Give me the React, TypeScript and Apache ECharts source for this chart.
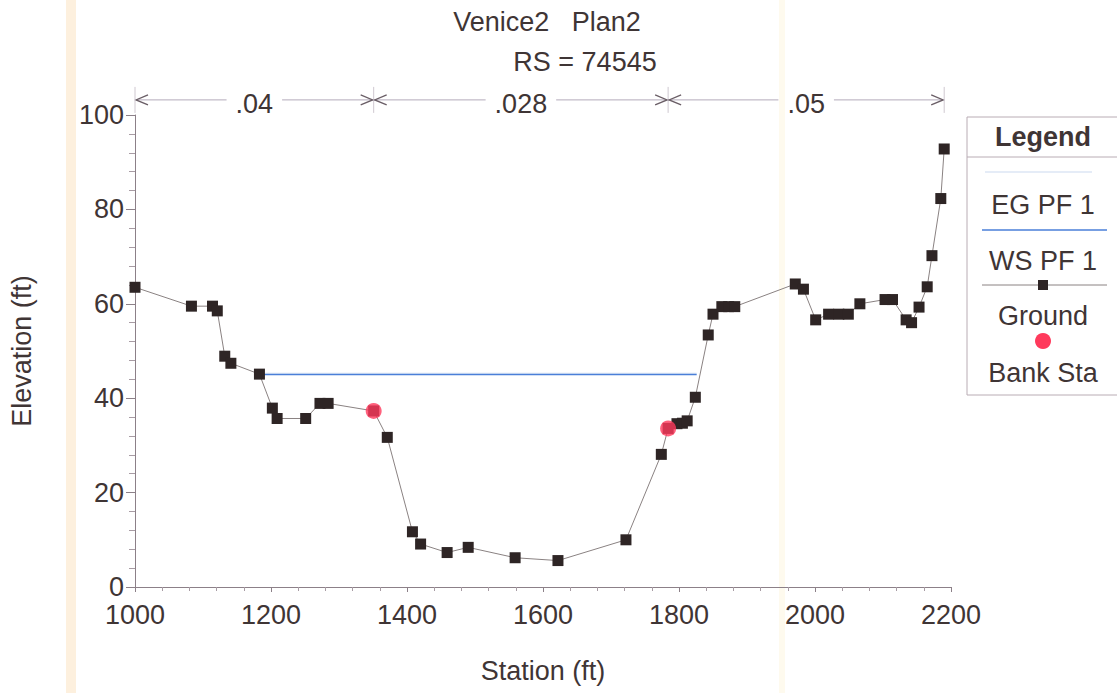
import React, { useEffect, useRef } from "react";
import * as echarts from "echarts";

// ---- data ----
const groundStations = [
  1000, 1083, 1114, 1121, 1132, 1141, 1183, 1202, 1209, 1251, 1272, 1284, 1351,
  1371, 1408, 1420, 1459, 1490, 1559, 1622, 1722, 1774, 1784, 1797, 1805, 1812,
  1824, 1843, 1850, 1863, 1873, 1882, 1971, 1983, 2001, 2020, 2035, 2049, 2066,
  2103, 2114, 2134, 2142, 2153, 2165, 2172, 2185, 2190,
];
const groundElevations = [
  63.5, 59.5, 59.5, 58.5, 48.9, 47.4, 45.1, 37.9, 35.7, 35.7, 38.9, 38.9, 37.3,
  31.7, 11.7, 9.1, 7.3, 8.4, 6.2, 5.6, 10.0, 28.1, 33.6, 34.6, 34.7, 35.2,
  40.2, 53.4, 57.8, 59.4, 59.4, 59.4, 64.2, 63.1, 56.6, 57.8, 57.8, 57.8, 60.0,
  60.9, 60.9, 56.6, 56.0, 59.3, 63.6, 70.2, 82.3, 92.8,
];
const bankStations = [1351, 1784];
const bankElevations = [37.3, 33.6];
const wsStations = [1188, 1826];
const wsElevations = [45.0, 45.0];
const egStations = [1188, 1826];
const egElevations = [45.3, 45.3];
const nValues = [".04", ".028", ".05"];
const nBreaks = [1000, 1351, 1784, 2190];
const xTicks = [1000, 1200, 1400, 1600, 1800, 2000, 2200];
const yTicks = [0, 20, 40, 60, 80, 100];
const legendItems = ["EG PF 1", "WS PF 1", "Ground", "Bank Sta"];

const FONT = "'Liberation Sans', Arial, Helvetica, sans-serif";
const TEXT = "#3f3535";
const ARROW_EL = 103.2;
const LABEL_EL = 102.3;

export default function App() {
  const ref = useRef<HTMLDivElement>(null);

  useEffect(() => {
    if (!ref.current) return;
    const chart = echarts.init(ref.current, null, { renderer: "svg" });

    const legendX = 1043;
    const option: any = {
      animation: false,
      backgroundColor: "#ffffff",
      grid: { left: 135, right: 166, top: 115, bottom: 106, containLabel: false },
      xAxis: {
        type: "value",
        min: xTicks[0],
        max: xTicks[xTicks.length - 1],
        interval: 200,
        name: "Station (ft)",
        nameLocation: "middle",
        nameGap: 70,
        nameTextStyle: { fontFamily: FONT, fontSize: 27, color: TEXT },
        axisLine: { show: true, lineStyle: { color: "#8c8088", width: 1 } },
        axisTick: { show: true, length: 5, lineStyle: { color: "#8c8088" } },
        minorTick: { show: true, splitNumber: 5, length: 4, lineStyle: { color: "#a89ca4" } },
        splitLine: { show: false },
        axisLabel: {
          fontFamily: FONT,
          fontSize: 27,
          color: TEXT,
          margin: 14,
          formatter: (v: number) => String(v),
        },
      },
      yAxis: {
        type: "value",
        min: yTicks[0],
        max: yTicks[yTicks.length - 1],
        interval: 20,
        name: "Elevation (ft)",
        nameLocation: "middle",
        nameGap: 100,
        nameTextStyle: { fontFamily: FONT, fontSize: 27, color: TEXT },
        axisLine: { show: true, lineStyle: { color: "#8c8088", width: 1 } },
        axisTick: { show: true, length: 9, lineStyle: { color: "#8c8088" } },
        minorTick: { show: true, splitNumber: 5, length: 6, lineStyle: { color: "#a89ca4" } },
        splitLine: { show: false },
        axisLabel: {
          fontFamily: FONT,
          fontSize: 27,
          color: TEXT,
          margin: 11,
          formatter: (v: number) => String(v),
        },
      },
      series: [
        {
          name: "EG PF 1",
          type: "line",
          data: egStations.map((s, i) => [s, egElevations[i]]),
          showSymbol: false,
          lineStyle: { color: "#dce6f4", width: 1 },
          z: 2,
        },
        {
          name: "WS PF 1",
          type: "line",
          data: wsStations.map((s, i) => [s, wsElevations[i]]),
          showSymbol: false,
          lineStyle: { color: "#4a7fd8", width: 1.5 },
          z: 3,
        },
        {
          name: "Ground",
          type: "line",
          data: groundStations.map((s, i) => [s, groundElevations[i]]),
          symbol: "rect",
          symbolSize: 11,
          itemStyle: { color: "#2e2525" },
          lineStyle: { color: "#8a8282", width: 1 },
          z: 4,
        },
        {
          name: "Bank Sta",
          type: "scatter",
          data: bankStations.map((s, i) => [s, bankElevations[i]]),
          symbol: "circle",
          symbolSize: 16,
          itemStyle: { color: "#ff3a5c" },
          z: 5,
        },
        {
          name: "n values",
          type: "custom",
          clip: false,
          silent: true,
          data: nValues.map((v, i) => [nBreaks[i], nBreaks[i + 1], i]),
          renderItem: (_params: any, api: any) => {
            const s0 = api.value(0);
            const s1 = api.value(1);
            const idx = api.value(2);
            const label = nValues[idx];
            const p0 = api.coord([s0, ARROW_EL]);
            const p1 = api.coord([s1, ARROW_EL]);
            const tp = api.coord([(s0 + s1) / 2, LABEL_EL]);
            const y = p0[1];
            const cx = tp[0];
            const w = (0.278 + 0.556 * (label.length - 1)) * 27;
            const half = w / 2 + 9;
            const lineStyle = { stroke: "#b3aabb", lineWidth: 1 };
            const arrowStyle = { stroke: "#6a5e66", lineWidth: 1.3, fill: "none" };
            const children: any[] = [
              { type: "line", shape: { x1: p0[0], y1: y, x2: cx - half, y2: y }, style: lineStyle },
              { type: "line", shape: { x1: cx + half, y1: y, x2: p1[0], y2: y }, style: lineStyle },
              {
                type: "polyline",
                shape: { points: [[p0[0] + 13, y - 5], [p0[0] + 1, y], [p0[0] + 13, y + 5]] },
                style: arrowStyle,
              },
              {
                type: "polyline",
                shape: { points: [[p1[0] - 13, y - 5], [p1[0] - 1, y], [p1[0] - 13, y + 5]] },
                style: arrowStyle,
              },
              {
                type: "line",
                shape: { x1: p1[0], y1: y - 13, x2: p1[0], y2: y + 13 },
                style: { stroke: "#cfc8d0", lineWidth: 1 },
              },
              {
                type: "text",
                x: cx,
                y: tp[1],
                style: {
                  text: label,
                  fill: TEXT,
                  font: `27px ${FONT}`,
                  align: "center",
                  verticalAlign: "middle",
                },
              },
            ];
            if (idx === 0) {
              children.push({
                type: "line",
                shape: { x1: p0[0], y1: y - 13, x2: p0[0], y2: y + 13 },
                style: { stroke: "#cfc8d0", lineWidth: 1 },
              });
            }
            return { type: "group", children };
          },
          z: 6,
        },
      ],
      graphic: [
        { type: "rect", z: -10, shape: { x: 66, y: 0, width: 10, height: 693 }, style: { fill: "#fdf0de" } },
        { type: "rect", z: -10, shape: { x: 779, y: 0, width: 6, height: 693 }, style: { fill: "#fefaee" } },
        {
          type: "text",
          x: 547,
          y: 22,
          style: { text: "Venice2   Plan2", fill: TEXT, font: `27px ${FONT}`, align: "center", verticalAlign: "middle" },
        },
        {
          type: "text",
          x: 585,
          y: 62,
          style: { text: "RS = 74545", fill: TEXT, font: `27px ${FONT}`, align: "center", verticalAlign: "middle" },
        },
        {
          type: "group",
          z: 10,
          children: [
            { type: "rect", shape: { x: 967, y: 117, width: 200, height: 278 }, style: { fill: "#ffffff", stroke: "#b9acb4", lineWidth: 1 } },
            { type: "line", shape: { x1: 967, y1: 157, x2: 1117, y2: 157 }, style: { stroke: "#b9acb4", lineWidth: 1 } },
            {
              type: "text",
              x: legendX,
              y: 137,
              style: { text: "Legend", fill: TEXT, font: `bold 27px ${FONT}`, align: "center", verticalAlign: "middle" },
            },
            { type: "line", shape: { x1: 985, y1: 172, x2: 1092, y2: 172 }, style: { stroke: "#dce6f4", lineWidth: 1.5 } },
            {
              type: "text",
              x: legendX,
              y: 205,
              style: { text: legendItems[0], fill: TEXT, font: `27px ${FONT}`, align: "center", verticalAlign: "middle" },
            },
            { type: "line", shape: { x1: 982, y1: 230, x2: 1107, y2: 230 }, style: { stroke: "#4a7fd8", lineWidth: 1.5 } },
            {
              type: "text",
              x: legendX,
              y: 261,
              style: { text: legendItems[1], fill: TEXT, font: `27px ${FONT}`, align: "center", verticalAlign: "middle" },
            },
            { type: "line", shape: { x1: 982, y1: 285, x2: 1107, y2: 285 }, style: { stroke: "#8a8282", lineWidth: 1 } },
            { type: "rect", shape: { x: 1038, y: 280, width: 10, height: 10 }, style: { fill: "#2e2525" } },
            {
              type: "text",
              x: legendX,
              y: 316,
              style: { text: legendItems[2], fill: TEXT, font: `27px ${FONT}`, align: "center", verticalAlign: "middle" },
            },
            { type: "circle", shape: { cx: 1043, cy: 341, r: 8 }, style: { fill: "#ff3a5c" } },
            {
              type: "text",
              x: legendX,
              y: 373,
              style: { text: legendItems[3], fill: TEXT, font: `27px ${FONT}`, align: "center", verticalAlign: "middle" },
            },
          ],
        },
      ],
    };

    chart.setOption(option);
    return () => chart.dispose();
  }, []);

  return <div ref={ref} style={{ width: 1117, height: 693, position: "absolute", left: 0, top: 0 }} />;
}
